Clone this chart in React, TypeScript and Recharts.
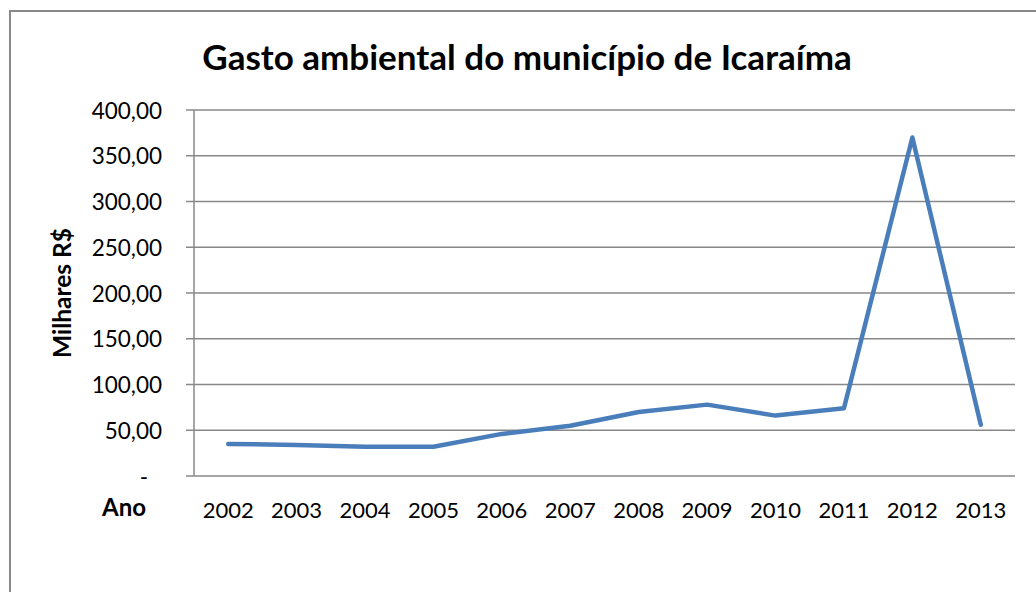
import { LineChart, Line, XAxis, YAxis, CartesianGrid } from "recharts";

const YEARS = ["2002", "2003", "2004", "2005", "2006", "2007", "2008", "2009", "2010", "2011", "2012", "2013"];
const SPENDING = [35, 34, 32, 32, 46, 55, 70, 78, 66, 74, 370, 56];
const Y_TICKS = [0, 50, 100, 150, 200, 250, 300, 350, 400];
// category boundaries, where Excel draws the x tick marks
const X_BOUNDS = [-0.5, 0.5, 1.5, 2.5, 3.5, 4.5, 5.5, 6.5, 7.5, 8.5, 9.5, 10.5, 11.5];
const X_CENTERS = YEARS.map((_, i) => i);

const data = YEARS.map((year, i) => ({ i, year, value: SPENDING[i] }));

const FONT = "Lato, 'Noto Sans', sans-serif";
const GRAY = "#888888";

const fmt = (v: number) => (v === 0 ? "-" : v.toFixed(2).replace(".", ","));

const YTick = ({ x, y, payload }: any) => (
    <text
        x={payload.value === 0 ? x - 14 : x}
        y={y}
        textAnchor="end"
        dominantBaseline="central"
        fontFamily={FONT}
        fontSize={22.5}
        fill="#000"
    >
        {fmt(payload.value)}
    </text>
);

export default function App() {
    return (
        <div style={{ position: "fixed", left: 0, top: 0, width: 1036, height: 592, background: "#fff", overflow: "hidden" }}>
            <style>{"html,body{margin:0;overflow:hidden}"}</style>
            {/* chart frame: only top and left edges are visible in the crop */}
            <div style={{ position: "absolute", left: 9, top: 10, width: 1027, height: 2, background: GRAY }} />
            <div style={{ position: "absolute", left: 9, top: 10, width: 2, height: 582, background: GRAY }} />
            <div
                style={{
                    position: "absolute",
                    left: 0,
                    width: 1054,
                    top: 34,
                    textAlign: "center",
                    fontFamily: FONT,
                    fontWeight: 700,
                    fontSize: 35,
                    lineHeight: "44px",
                    color: "#000",
                }}
            >
                Gasto ambiental do município de Icaraíma
            </div>
            <div
                style={{
                    position: "absolute",
                    left: 61,
                    top: 293,
                    transform: "translate(-50%, -50%) rotate(-90deg)",
                    fontFamily: FONT,
                    fontWeight: 700,
                    fontSize: 24.5,
                    whiteSpace: "nowrap",
                    color: "#000",
                }}
            >
                Milhares R$
            </div>
            <div
                style={{
                    position: "absolute",
                    left: 124,
                    top: 506,
                    transform: "translate(-50%, -50%)",
                    fontFamily: FONT,
                    fontWeight: 700,
                    fontSize: 24,
                    color: "#000",
                }}
            >
                Ano
            </div>
            <div style={{ position: "absolute", left: 0, top: 0 }}>
                <LineChart width={1036} height={592} data={data} margin={{ top: 110, right: 21, bottom: 0, left: 0 }}>
                    <CartesianGrid horizontal vertical={false} stroke={GRAY} strokeWidth={1.3} />
                    <XAxis
                        dataKey="i"
                        type="number"
                        domain={[-0.5, 11.5]}
                        ticks={X_BOUNDS}
                        tick={false}
                        tickSize={8}
                        height={0}
                        axisLine={{ stroke: GRAY, strokeWidth: 1.5 }}
                        tickLine={{ stroke: GRAY, strokeWidth: 1.5 }}
                    />
                    <XAxis
                        xAxisId="lbl"
                        dataKey="i"
                        type="number"
                        domain={[-0.5, 11.5]}
                        ticks={X_CENTERS}
                        tickFormatter={(v: number) => YEARS[v]}
                        tickSize={0}
                        tickMargin={26}
                        height={116}
                        axisLine={false}
                        tickLine={false}
                        interval={0}
                        tick={{ fontFamily: FONT, fontSize: 22, fill: "#000" }}
                    />
                    <YAxis
                        type="number"
                        domain={[0, 400]}
                        ticks={Y_TICKS}
                        width={194}
                        tickSize={8}
                        tickMargin={24}
                        interval={0}
                        tick={<YTick />}
                        axisLine={{ stroke: GRAY, strokeWidth: 1.5 }}
                        tickLine={{ stroke: GRAY, strokeWidth: 1.5 }}
                    />
                    <Line
                        dataKey="value"
                        type="linear"
                        stroke="#4a7ebb"
                        strokeWidth={4.5}
                        strokeLinecap="round"
                        strokeLinejoin="round"
                        dot={false}
                        activeDot={false}
                        isAnimationActive={false}
                    />
                </LineChart>
            </div>
        </div>
    );
}
